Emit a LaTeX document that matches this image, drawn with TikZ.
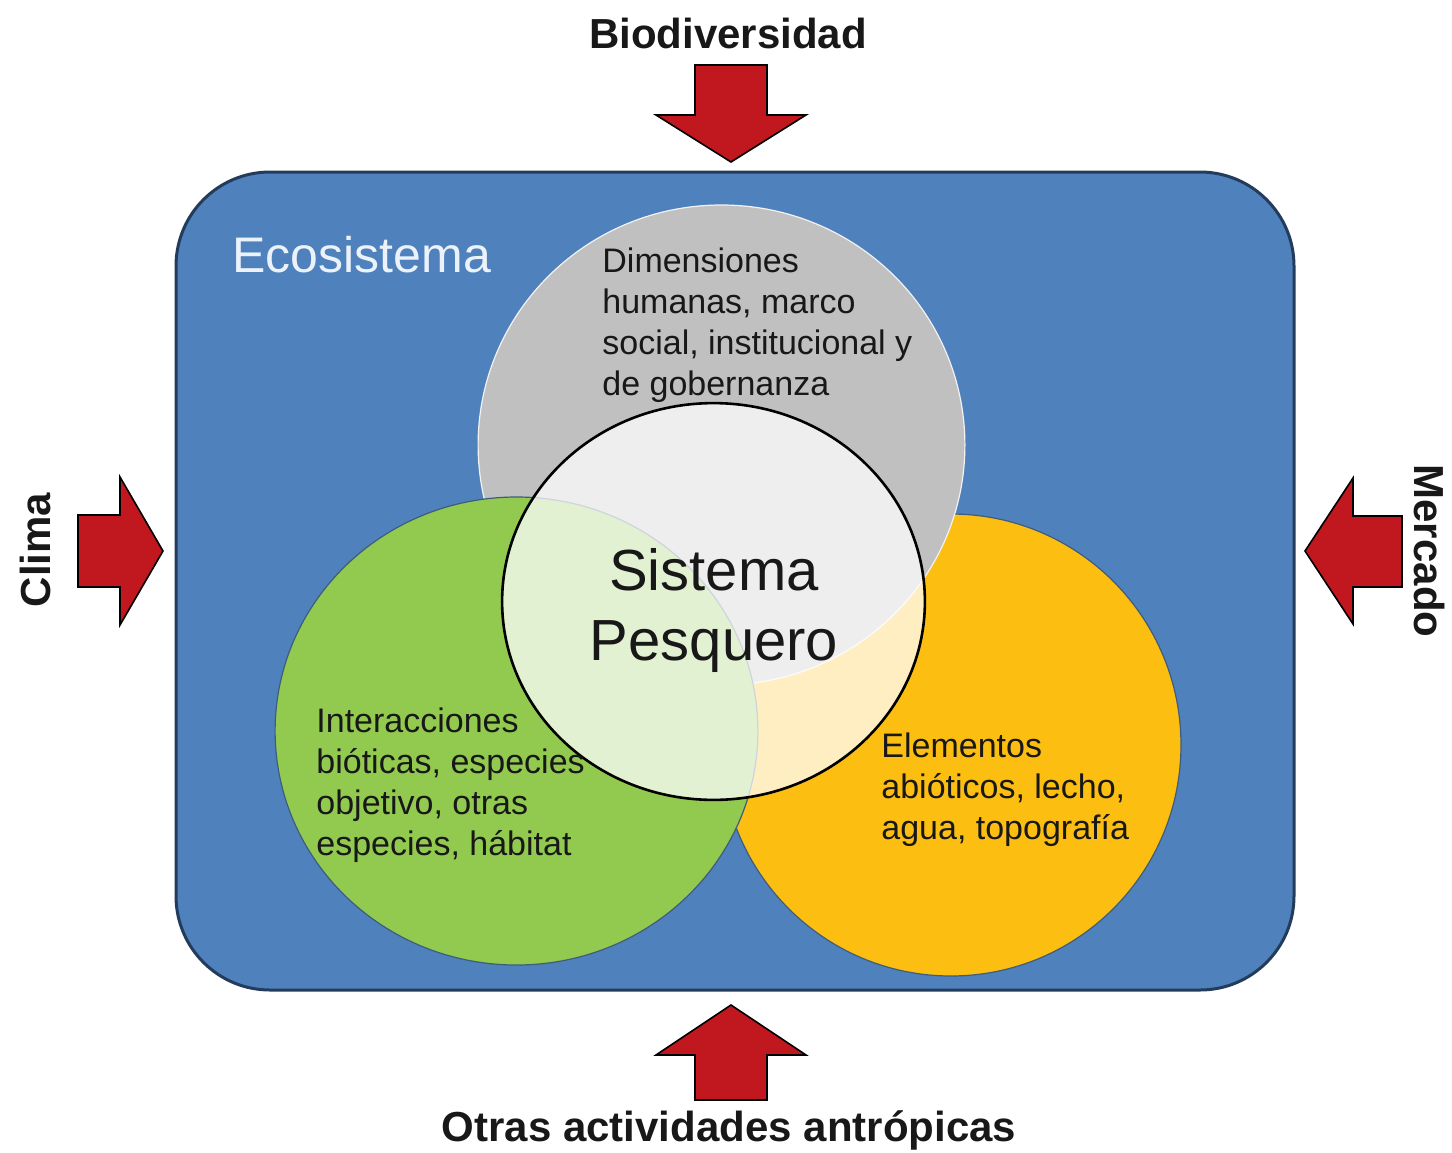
\documentclass[tikz,border=0pt]{standalone}
\usepackage{fontspec}
\setmainfont{Liberation Sans}
\definecolor{ecoblue}{RGB}{79,129,189}
\definecolor{ecoedge}{RGB}{36,60,92}
\definecolor{humgray}{RGB}{192,192,192}
\definecolor{biogreen}{RGB}{146,202,80}
\definecolor{abiorange}{RGB}{253,190,18}
\definecolor{circedge}{RGB}{62,92,124}
\definecolor{arrowred}{RGB}{192,24,30}
\definecolor{txtdark}{RGB}{24,24,24}
\definecolor{ecotext}{RGB}{236,242,250}
\begin{document}
\begin{tikzpicture}[x=0.5pt,y=-0.5pt,
  redarrow/.style={fill=arrowred, draw=black, line width=0.8pt, line join=miter},
  outerlabel/.style={font=\fontsize{21}{25}\selectfont\bfseries, text=txtdark, inner sep=0pt},
  circtext/.style={font=\fontsize{17}{20.5}\selectfont, text=txtdark, align=left, inner sep=0pt, anchor=north west},
  venn/.style={line width=0.6pt}]
\useasboundingbox (0,0) rectangle (1452,1152);

% ecosystem box
\draw[fill=ecoblue, draw=ecoedge, line width=1.5pt, rounded corners=47pt] (176,172) rectangle (1294,990);
\node[font=\fontsize{25}{30}\selectfont, text=ecotext, anchor=west, inner sep=0pt] (eco) at (232,255) {Ecosistema};

% venn circles
\fill[abiorange, draw=circedge, venn] (951,745) ellipse [x radius=115pt, y radius=115.5pt];
\fill[humgray, draw=white!80!humgray, venn] (721.5,445) ellipse [x radius=121.7pt, y radius=120pt];
\fill[biogreen, draw=circedge, venn] (516.5,731) ellipse [x radius=120.7pt, y radius=117pt];
\fill[white, fill opacity=0.74, draw=black, draw opacity=1, line width=1.3pt] (713.5,601.5) ellipse [x radius=105.7pt, y radius=99.2pt];

% texts
\node[circtext] (hum) at (602,247) {Dimensiones\\humanas, marco\\social, institucional y\\de gobernanza};
\node[circtext] (bio) at (316,707) {Interacciones\\bióticas, especies\\objetivo, otras\\especies, hábitat};
\node[circtext] (abio) at (881,732) {Elementos\\abióticos, lecho,\\agua, topografía};
\node[font=\fontsize{29}{35}\selectfont, text=txtdark, align=center, inner sep=0pt] (sp) at (714,610) {Sistema\\Pesquero};

% outer labels
\node[outerlabel] (biod) at (728,33) {Biodiversidad};
\node[outerlabel, rotate=90] (clima) at (35,550) {Clima};
\node[outerlabel, rotate=-90] (merc) at (1429,551) {Mercado};
\node[outerlabel] (otras) at (729,1130) {Otras actividades antrópicas};

% arrows
\draw[redarrow] (695,65) -- (767,65) -- (767,115) -- (806,115) -- (731,162) -- (656,115) -- (695,115) -- cycle;
\draw[redarrow] (695,1100) -- (767,1100) -- (767,1055) -- (806,1055) -- (731,1005) -- (656,1055) -- (695,1055) -- cycle;
\draw[redarrow] (78,515) -- (78,587) -- (120,587) -- (120,625) -- (163,551) -- (120,477) -- (120,515) -- cycle;
\draw[redarrow] (1402,516) -- (1402,587) -- (1353,587) -- (1353,624) -- (1305,551) -- (1353,478) -- (1353,516) -- cycle;
\end{tikzpicture}
\end{document}
